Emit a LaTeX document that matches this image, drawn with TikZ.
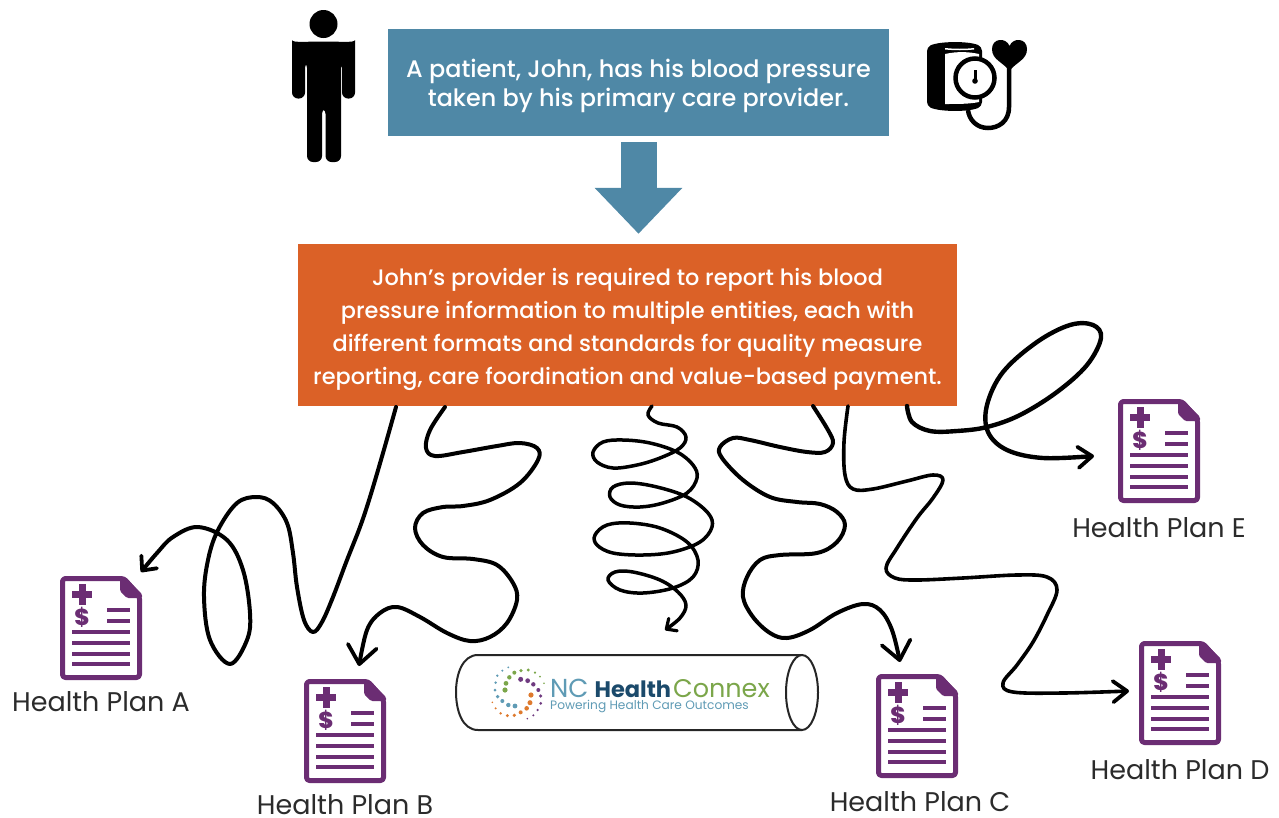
\documentclass[tikz,border=0pt]{standalone}
\usepackage{fontspec}
\setmainfont{Poppins Medium}
\newfontfamily\labelfont{Poppins}
\usetikzlibrary{arrows.meta}
\definecolor{boxblue}{HTML}{4F88A6}
\definecolor{boxorange}{HTML}{DB6127}
\definecolor{planpurple}{HTML}{6B2D73}
\definecolor{labelgrey}{HTML}{2B2B2B}
\definecolor{logoblue}{HTML}{5F9BB5}
\definecolor{logonavy}{HTML}{1B4A6B}
\definecolor{logogreen}{HTML}{7BA64A}
\definecolor{logoorange}{HTML}{DE7A2E}
\definecolor{logopurple}{HTML}{6F3A80}
\tikzset{
  infotext/.style={text=white,align=center,inner sep=0pt},
  planlabel/.style={text=labelgrey,inner sep=0pt,font=\labelfont\fontsize{27}{30}\selectfont},
  curve/.style={draw=black,line width=4pt,line cap=round,line join=round},
  bigbarb/.style={-{Straight Barb[length=18pt,width=29pt,line width=3.8pt,round]}},
  midbarb/.style={-{Straight Barb[length=14pt,width=21pt,line width=3.8pt,round]}},
  smallbarb/.style={-{Straight Barb[length=11pt,width=20pt,line width=3.8pt,round]}},
  tinybarb/.style={-{Straight Barb[length=8pt,width=15pt,line width=3.2pt,round]}},
  docicon/.pic={
    \draw[planpurple,line width=5pt,line join=round,rounded corners=3pt]
      (2.5,2.5) -- (64,2.5) -- (79.5,20) -- (79.5,101.5) -- (2.5,101.5) -- cycle;
    \fill[planpurple,rounded corners=1.5pt] (60,1) -- (60,15) -- (67,22) -- (82,22) -- (82,18) -- (65,1) -- cycle;
    \fill[planpurple] (12,15) rectangle (32,22);
    \fill[planpurple] (18.5,8) rectangle (25.5,29);
    \node[text=planpurple,inner sep=0pt,font=\fontsize{23}{23}\selectfont\bfseries] (dollar) at (22,41) {\$};
    \foreach \yy in {34,45}{\fill[planpurple] (47,\yy-2) rectangle (70,\yy+2);}
    \foreach \yy in {56,67,78,88}{\fill[planpurple] (12,\yy-2) rectangle (70,\yy+2);}
  }
}
\begin{document}
\begin{tikzpicture}[x=1pt,y=-1pt]
\useasboundingbox (0,0) rectangle (1279,817);
% boxes
\node[fill=boxblue,minimum width=501pt,minimum height=107pt,inner sep=0pt] (blue) at (638.5,82.5) {};
\node[infotext,font=\fontsize{23.9}{28.5}\selectfont] (bluetext) at (638.5,86) {A patient, John, has his blood pressure\\taken by his primary care provider.};
\node[fill=boxorange,minimum width=659pt,minimum height=162pt,inner sep=0pt] (orange) at (627.5,325) {};
\node[infotext,font=\fontsize{22.4}{33}\selectfont] (orangetext) at (627.5,329) {John’s provider is required to report his blood\\pressure information to multiple entities, each with\\different formats and standards for quality measure\\reporting, care foordination and value-based payment.};
\draw[boxblue,line width=36pt,shorten <=6pt,shorten >=10pt,-{Triangle[length=46pt,width=85pt]}] (blue.south) -- (blue.south |- orange.north);
% person
\fill (323.5,24) circle (14);
\fill[rounded corners=6pt] (292,98.5) -- (292,46) .. controls (292,43) and (310,41.5) .. (323.5,41.5) .. controls (337,41.5) and (355,43) .. (355,46) -- (355,98.5) -- (342,98.5) -- (342,62) -- (341,62) -- (341,162) -- (325.5,162) -- (325.5,108) -- (322,108) -- (322,162) -- (307,162) -- (307,62) -- (305,62) -- (305,98.5) -- cycle;
% blood pressure cuff
\fill[rounded corners=4pt] (927,47) .. controls (940,41) and (970,41) .. (982,47) -- (982,106) .. controls (970,112) and (940,112) .. (927,106) -- cycle;
\fill[white] (945,54) .. controls (958,51) and (970,52) .. (979,54) -- (979,102) .. controls (970,104) and (958,104) .. (945,104) -- cycle;
\fill[white] (945,48) .. controls (955,49) and (965,49) .. (974,48) -- (974,49.5) .. controls (965,50.5) and (955,50.5) .. (945,49.5) -- cycle;
\draw[line width=4.5pt,fill=white] (975,78) circle (19.5);
\fill (975,81) circle (2.8);
\draw[line width=3pt] (975,70) -- (975,80);
\fill (1009.5,71) .. controls (1003,62) and (992,60) .. (992,49) .. controls (992,38) and (1006,37) .. (1009.5,46) .. controls (1013,37) and (1027,38) .. (1027,49) .. controls (1027,60) and (1016,62) .. (1009.5,71) -- cycle;
\draw[line width=4.5pt] (1009,66) -- (1009,107) .. controls (1009,122) and (998,128) .. (988,128) .. controls (977,128) and (969,120) .. (968,110);
% logo pipe
\draw[black!85,line width=2pt,fill=white] (802,655) -- (478,655) .. controls (462,655) and (456,675) .. (456,692) .. controls (456,710) and (462,730) .. (478,730) -- (802,730);
\draw[black!85,line width=2pt,fill=white] (802,692.5) ellipse (16 and 37.5);
\begin{scope}[shift={(450,640)},x=.3333pt,y=-.3333pt]
  \foreach \px/\py/\rr in {175/82/1,157/92/1.1,142/107/1.3,137/128/1.4,135/150/1.5,143/170/1.9,157/183/2,175/195/2.2,195/198/2.4}
    \fill[logoblue] (\px,\py) circle (\rr pt);
  \foreach \px/\py/\rr in {282/130/.9,270/110/1,255/98/1.2,235/90/1.6,213/92/1.8,193/98/2,178/112/2.2,168/130/2.4,165/150/2.6}
    \fill[logogreen] (\px,\py) circle (\rr pt);
  \foreach \px/\py/\rr in {212/118/2.5,233/122/2.4,250/133/2.2,265/150/2,272/168/1.8,272/190/1.5,263/210/1.3,250/226/1.1,232/236/.9}
    \fill[logopurple] (\px,\py) circle (\rr pt);
  \foreach \px/\py/\rr in {243/165/2.6,240/188/2.5,230/205/2.3,212/217/2,193/226/1.8,172/227/1.6,152/220/1.4,137/205/1.1,127/187/.9}
    \fill[logoorange] (\px,\py) circle (\rr pt);
\end{scope}
\node[anchor=south west,inner sep=0pt,align=left,font=\labelfont] (logotext) at (550,712.5) {%
  {\fontsize{26}{14}\selectfont\color{logoblue}NC\hspace{6pt}\color{logonavy}\fontsize{22.5}{14}\selectfont\bfseries Health\hspace{2pt}\mdseries\color{logogreen}\fontsize{25.5}{14}\selectfont Connex}\\[0pt]
  {\fontsize{12.2}{14}\selectfont\color{logoblue}Powering Health Care Outcomes}};
% plan icons
\pic (planA) at (60,576) {docicon};
\pic (planB) at (304,679) {docicon};
\pic (planC) at (876,674) {docicon};
\pic (planD) at (1139,641) {docicon};
\pic (planE) at (1118,399) {docicon};
\node[planlabel] (labA) at (101,702) {Health Plan A};
\node[planlabel] (labB) at (345,805) {Health Plan B};
\node[planlabel] (labC) at (920,802) {Health Plan C};
\node[planlabel] (labD) at (1180,770) {Health Plan D};
\node[planlabel] (labE) at (1159,528) {Health Plan E};
% connector ends
\coordinate (a0) at (396,407); \coordinate (a1) at (141,572);
\coordinate (b0) at (445,407); \coordinate (b1) at (359,666);
\coordinate (m0) at (652,406); \coordinate (m1) at (665,630);
\coordinate (c0) at (813,406); \coordinate (c1) at (900,662);
\coordinate (d0) at (848,406); \coordinate (d1) at (1129,691);
\coordinate (e0) at (907,406); \coordinate (e1) at (1094,456);
% connectors
\draw[curve,smallbarb] plot[smooth,tension=.6] coordinates {(a0) (383,453) (370,497) (360,527) (347,560) (333,597) (322,622) (313,632) (304,620) (297,587) (293,553) (287,523) (273,503) (257,497) (237,503) (218,530) (208,560) (204,597) (210,640) (230,664) (247,640) (250,613) (243,570) (227,540) (198,527) (173,537) (157,553) (a1)};
\draw[curve,bigbarb] plot[smooth,tension=.6] coordinates {(b0) (430,430) (426,448) (435,456) (463,452) (497,446) (520,443) (537,448) (538,460) (520,483) (490,500) (463,506) (443,507) (423,513) (415,528) (423,545) (443,557) (473,559) (497,565) (513,583) (517,600) (507,623) (490,637) (470,641) (447,633) (420,617) (397,607) (380,613) (367,630) (b1)};
\draw[curve,tinybarb,line width=3.5pt] plot[smooth,tension=.6] coordinates {(m0) (648,415) (658,423) (677,427) (686,437) (680,448) (660,458) (637,465) (613,468) (597,462) (593,452) (603,442) (623,440) (650,443) (677,452) (693,465) (697,478) (687,493) (663,503) (640,507) (620,505) (610,497) (613,487) (630,483) (657,487) (687,497) (708,513) (712,527) (700,542) (673,552) (643,555) (613,553) (597,545) (595,535) (607,525) (630,523) (660,528) (687,542) (698,560) (693,577) (673,588) (643,593) (620,590) (608,580) (615,572) (633,572) (660,580) (678,592) (686,605) (680,618) (m1)};
\draw[curve,bigbarb] plot[smooth,tension=.6] coordinates {(c0) (828,430) (833,443) (825,452) (807,452) (780,447) (750,440) (733,438) (720,447) (722,458) (743,480) (770,497) (797,502) (820,504) (837,512) (845,525) (837,542) (817,553) (780,555) (760,560) (747,577) (743,597) (753,617) (770,633) (787,638) (810,630) (837,613) (863,604) (880,610) (892,630) (c1)};
\draw[curve,midbarb,line width=3.6pt] plot[smooth,tension=.6] coordinates {(d0) (844,442) (845,475) (853,489) (873,489) (907,481) (933,475) (943,480) (933,498) (917,518) (897,548) (886,568) (895,578) (917,580) (963,578) (1017,575) (1047,577) (1057,590) (1047,615) (1033,642) (1017,665) (1003,683) (1013,692) (1063,693) (d1)};
\draw[curve,midbarb,line width=4.4pt] plot[smooth,tension=.6] coordinates {(e0) (912,422) (930,431) (957,431) (987,427) (1020,415) (1057,392) (1087,365) (1101,338) (1093,325) (1070,325) (1037,342) (1003,372) (987,405) (988,432) (1007,450) (1043,458) (e1)};
\end{tikzpicture}
\end{document}
